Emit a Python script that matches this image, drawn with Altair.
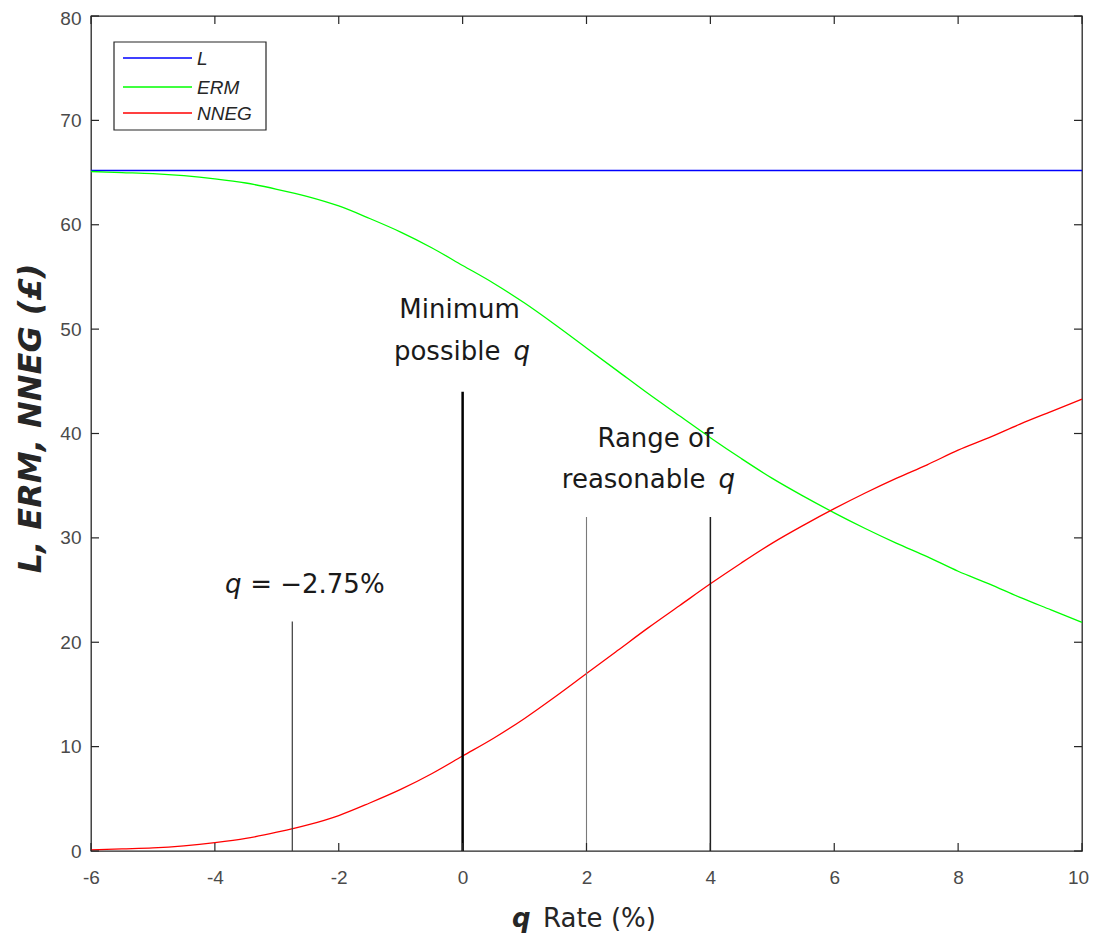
import altair as alt
import pandas as pd

# ---------------- data ----------------
q_grid = [-6, -5.5, -5, -4.5, -4, -3.5, -3, -2.5, -2, -1.5, -1, -0.5, 0, 0.5, 1, 1.5,
          2, 2.5, 3, 3.5, 4, 4.5, 5, 5.5, 6, 6.5, 7, 7.5, 8, 8.5, 9, 9.5, 10]
erm_vals = [65.1, 65.0, 64.9, 64.7, 64.4, 64.0, 63.4, 62.7, 61.8, 60.6, 59.3, 57.8, 56.1,
            54.4, 52.5, 50.4, 48.2, 46.0, 43.8, 41.7, 39.6, 37.6, 35.7, 34.0, 32.4, 30.9,
            29.5, 28.2, 26.8, 25.6, 24.3, 23.1, 21.9]
nneg_vals = [0.1, 0.2, 0.3, 0.5, 0.8, 1.2, 1.8, 2.5, 3.4, 4.6, 5.9, 7.4, 9.1, 10.8, 12.7,
             14.8, 17.0, 19.2, 21.4, 23.5, 25.6, 27.6, 29.5, 31.2, 32.8, 34.3, 35.7, 37.0,
             38.4, 39.6, 40.9, 42.1, 43.3]
L_q = [-6, 10]
L_vals = [65.2, 65.2]

series_names = ["L", "ERM", "NNEG"]
series_colors = ["#0000ff", "#00ff00", "#ff0000"]

marker_q = [-2.75, 0, 2, 4]
marker_top = [22, 44, 32, 32]

x_ticks = [-6, -4, -2, 0, 2, 4, 6, 8, 10]
y_ticks = [0, 10, 20, 30, 40, 50, 60, 70, 80]

# annotation pieces: (q position, y position, text)
ann_center = [(-0.05, 51.1, "Minimum"), (3.11, 38.7, "Range of")]
ann_right = [(0.61, 47.0, "possible"), (3.92, 34.8, "reasonable")]
ann_left = [(-3.43, 24.7, "= \u22122.75%")]
ann_q = [(0.82, 47.0, "q"), (4.13, 34.8, "q"), (-3.835, 24.7, "q")]

y_title = "L, ERM, NNEG (\u00a3)"
x_title_q = "q"
x_title_rest = "Rate (%)"

# ---------------- build ----------------
W, H = 991, 835
ANN_FONT = "DejaVu Sans"
TICK_FONT = "Liberation Sans"

rows = []
for q, v in zip(L_q, L_vals):
    rows.append({"q": q, "val": v, "series": "L"})
for q, v in zip(q_grid, erm_vals):
    rows.append({"q": q, "val": v, "series": "ERM"})
for q, v in zip(q_grid, nneg_vals):
    rows.append({"q": q, "val": v, "series": "NNEG"})
curves = pd.DataFrame(rows)
curves["order"] = curves["series"].map({s: i for i, s in enumerate(series_names)})

xscale = alt.Scale(domain=[-6, 10], nice=False, zero=False)
yscale = alt.Scale(domain=[0, 80], nice=False, zero=False)

x_enc = alt.X("q:Q", scale=xscale,
              axis=alt.Axis(values=x_ticks, title=None, labelExpr="datum.value + ''",
                            labelPadding=17, labelFlush=False,
                            labelOffset={"condition": {"test": "datum.value == 10", "value": -4},
                                         "value": 0}))
y_enc = alt.Y("val:Q", scale=yscale,
              axis=alt.Axis(values=y_ticks, title=y_title, labelPadding=10, labelFlush=False,
                            labelOffset={"condition": {"test": "datum.value == 80", "value": 2},
                                         "value": 0},
                            titleFont=ANN_FONT, titleFontSize=32, titleFontWeight="bold",
                            titleFontStyle="italic", titleColor="#262626",
                            titleAngle=270, titleX=-61, titleY=402,
                            titleAlign="center", titleBaseline="middle"))

lines = alt.Chart(curves).mark_line(strokeWidth=1.3, interpolate="monotone").encode(
    x=x_enc, y=y_enc,
    color=alt.Color("series:N", scale=alt.Scale(domain=series_names, range=series_colors),
                    legend=None),
    order=alt.Order("order:Q"),
)

layers = [lines]

# vertical marker lines
marker_styles = [
    {"color": "#3a3a3a", "strokeWidth": 1.2},
    {"color": "#000000", "strokeWidth": 2.5},
    {"color": "#7a7a7a", "strokeWidth": 1.1},
    {"color": "#1e1e1e", "strokeWidth": 1.5},
]
for q, top, st in zip(marker_q, marker_top, marker_styles):
    df = pd.DataFrame({"q": [q], "y0": [0], "y1": [top]})
    layers.append(alt.Chart(df).mark_rule(**st).encode(
        x=alt.X("q:Q", scale=xscale), y=alt.Y("y0:Q", scale=yscale), y2="y1:Q"))

# annotations
def ann_df(items):
    return pd.DataFrame(items, columns=["q", "y", "label"])

ANN_SIZE = 26
layers.append(alt.Chart(ann_df(ann_center)).mark_text(
    font=ANN_FONT, fontSize=ANN_SIZE, color="#1a1a1a", align="center", baseline="alphabetic"
).encode(x=alt.X("q:Q", scale=xscale), y=alt.Y("y:Q", scale=yscale), text="label:N"))
layers.append(alt.Chart(ann_df(ann_right)).mark_text(
    font=ANN_FONT, fontSize=ANN_SIZE, color="#1a1a1a", align="right", baseline="alphabetic"
).encode(x=alt.X("q:Q", scale=xscale), y=alt.Y("y:Q", scale=yscale), text="label:N"))
layers.append(alt.Chart(ann_df(ann_left)).mark_text(
    font=ANN_FONT, fontSize=ANN_SIZE, color="#1a1a1a", align="left", baseline="alphabetic"
).encode(x=alt.X("q:Q", scale=xscale), y=alt.Y("y:Q", scale=yscale), text="label:N"))
layers.append(alt.Chart(ann_df(ann_q)).mark_text(
    font=ANN_FONT, fontSize=ANN_SIZE, color="#1a1a1a", align="left", baseline="alphabetic",
    fontStyle="italic"
).encode(x=alt.X("q:Q", scale=xscale), y=alt.Y("y:Q", scale=yscale), text="label:N"))

# inward ticks on all four sides
tick_style = {"color": "#262626", "strokeWidth": 1.2}
xt = pd.DataFrame({"q": x_ticks})
yt = pd.DataFrame({"val": y_ticks})
layers.append(alt.Chart(xt).mark_rule(**tick_style).encode(
    x=alt.X("q:Q", scale=xscale), y=alt.value(H), y2=alt.value(H - 8)))
layers.append(alt.Chart(xt).mark_rule(**tick_style).encode(
    x=alt.X("q:Q", scale=xscale), y=alt.value(0), y2=alt.value(8)))
layers.append(alt.Chart(yt).mark_rule(**tick_style).encode(
    y=alt.Y("val:Q", scale=yscale), x=alt.value(0), x2=alt.value(8)))
layers.append(alt.Chart(yt).mark_rule(**tick_style).encode(
    y=alt.Y("val:Q", scale=yscale), x=alt.value(W), x2=alt.value(W - 8)))

# x-axis title (mixed styles)
layers.append(alt.Chart(pd.DataFrame({"t": [x_title_q]})).mark_text(
    font=ANN_FONT, fontSize=26, fontWeight="bold", fontStyle="italic", color="#262626",
    align="left", baseline="alphabetic"
).encode(x=alt.value(421), y=alt.value(911), text="t:N"))
layers.append(alt.Chart(pd.DataFrame({"t": [x_title_rest]})).mark_text(
    font=ANN_FONT, fontSize=26, color="#262626", align="left", baseline="alphabetic"
).encode(x=alt.value(452), y=alt.value(911), text="t:N"))

# legend box
layers.append(alt.Chart(pd.DataFrame({"a": [0]})).mark_rect(
    fill="white", stroke="#262626", strokeWidth=1.2
).encode(x=alt.value(23), x2=alt.value(175), y=alt.value(26), y2=alt.value(114)))
leg_y = [42, 71, 97]
for name, col, ly in zip(series_names, series_colors, leg_y):
    d = pd.DataFrame({"name": [name]})
    layers.append(alt.Chart(d).mark_rule(color=col, strokeWidth=1.5).encode(
        x=alt.value(32), x2=alt.value(101), y=alt.value(ly)))
    layers.append(alt.Chart(d).mark_text(
        font=TICK_FONT, fontSize=19, fontStyle="italic", color="#262626",
        align="left", baseline="alphabetic"
    ).encode(x=alt.value(106), y=alt.value(ly + 7), text="name:N"))

chart = alt.layer(*layers).properties(
    width=W, height=H,
    autosize=alt.AutoSizeParams(type="none"),
    padding={"left": 83, "top": 8, "right": 8, "bottom": 85},
).configure_view(
    stroke="#262626", strokeWidth=1.3
).configure_axis(
    grid=False, domain=False, ticks=False,
    labelFont=TICK_FONT, labelFontSize=19, labelColor="#4a4a4a",
)

chart.save("out.html", embed_options={"renderer": "svg", "actions": False})
